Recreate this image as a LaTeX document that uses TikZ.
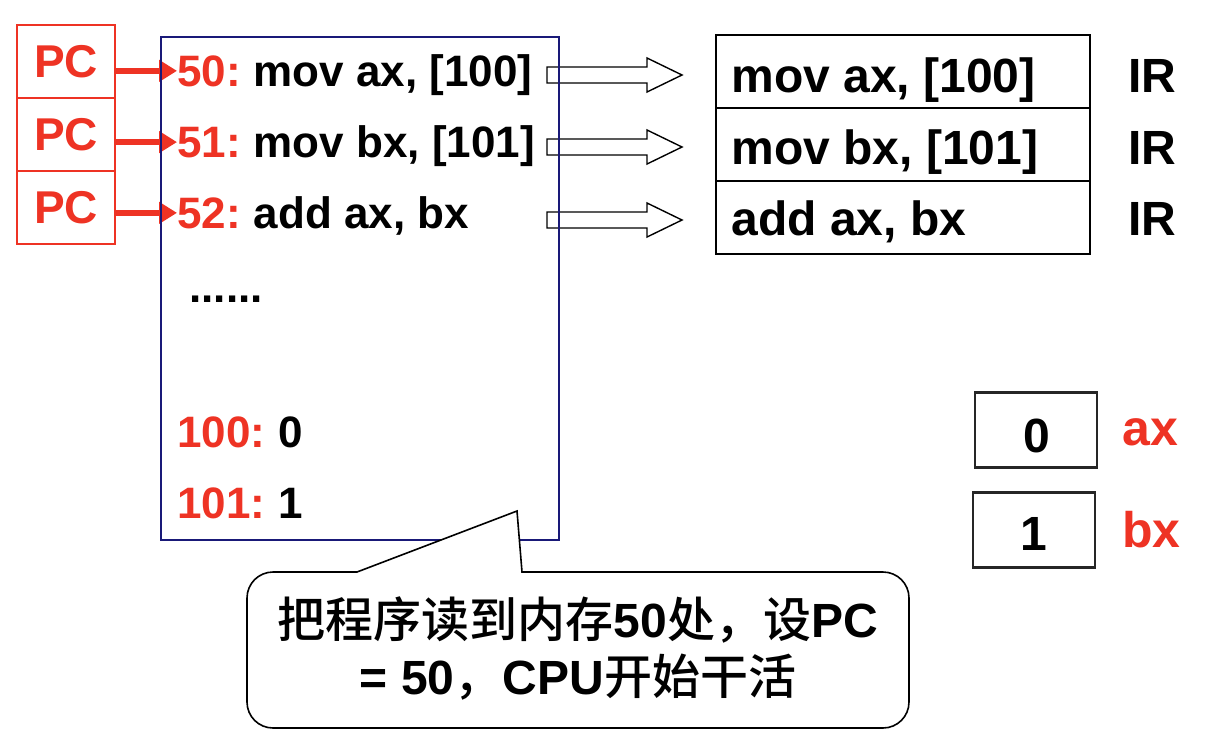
\documentclass[tikz,border=0pt]{standalone}
\usepackage{fontspec}
\setmainfont{Liberation Sans}
\newfontfamily\cjk{Noto Sans CJK SC}[BoldFont={Noto Sans CJK SC Medium}]
\usepackage{tikz}
\usetikzlibrary{arrows.meta,positioning,calc}
\definecolor{pcred}{RGB}{238,51,36}
\definecolor{memblue}{RGB}{25,25,120}

\tikzset{
  pcbox/.style={draw=pcred, line width=0.7pt, minimum width=49pt, minimum height=36.5pt, inner sep=0pt, text=pcred, font=\fontsize{23}{27}\selectfont\bfseries},
  memtext/.style={anchor=base west, inner sep=0pt, font=\fontsize{22}{26}\selectfont\bfseries},
  pcarrow/.style={draw=pcred, line width=2.8pt, -{Triangle[length=9pt,width=10.5pt]}},
  fatarrow/.style={draw=black, fill=white, line width=0.7pt},
  irbox/.style={draw=black, line width=0.6pt, minimum width=187pt, minimum height=36.5pt, inner sep=0pt},
  irtext/.style={anchor=base west, inner sep=0pt, font=\fontsize{24}{28}\selectfont\bfseries},
  regbox/.style={draw=black!85, line width=1.1pt, minimum width=61pt, minimum height=37.5pt, inner sep=0pt},
  regtext/.style={anchor=base, inner sep=0pt, font=\fontsize{24}{28}\selectfont\bfseries},
  reglabel/.style={anchor=base west, inner sep=0pt, text=pcred, font=\fontsize{25}{30}\selectfont\bfseries},
  callout/.style={draw=black, line width=0.8pt, fill=white}
}

\begin{document}
\begin{tikzpicture}[x=0.5pt,y=0.5pt,yscale=-1,xscale=1]
\path[use as bounding box] (0,0) rectangle (1218,740);

%Shape: PC registers
\node[pcbox] (pc1) at (66,61.5) {PC};
\node[pcbox] (pc2) at (66,134.5) {PC};
\node[pcbox] (pc3) at (66,207.5) {PC};

% Text Node: addresses
\node[memtext, text=pcred] (a50) at (177,86) {50:};
\node[memtext, text=pcred] (a51) at (177,157) {51:};
\node[memtext, text=pcred] (a52) at (177,228) {52:};
\node[memtext, xshift=6pt] (c50) at (a50.base east) {mov ax, [100]};
\node[memtext, xshift=6pt] (c51) at (a51.base east) {mov bx, [101]};
\node[memtext, xshift=6pt] (c52) at (a52.base east) {add ax, bx};
\node[memtext] (dots) at (189,302) {......};
\node[memtext, text=pcred] (a100) at (177,447) {100:};
\node[memtext, xshift=6pt] (c100) at (a100.base east) {0};
\node[memtext, text=pcred] (a101) at (177,518) {101:};
\node[memtext, xshift=6pt] (c101) at (a101.base east) {1};

% PC arrows
\draw[pcarrow] (pc1.east |- a50.west) -- (a50.west);
\draw[pcarrow] (pc2.east |- a51.west) -- (a51.west);
\draw[pcarrow] (pc3.east |- a52.west) -- (a52.west);

%Shape: fetch arrows
\coordinate (f1) at (547,75);
\coordinate (f2) at (547,147);
\coordinate (f3) at (547,220);
\draw[fatarrow] (f1) ++(0,-8) -- ++(100,0) -- ++(0,-9) -- ++(35,17) -- ++(-35,17) -- ++(0,-9) -- ++(-100,0) -- cycle;
\draw[fatarrow] (f2) ++(0,-8) -- ++(100,0) -- ++(0,-9) -- ++(35,17) -- ++(-35,17) -- ++(0,-9) -- ++(-100,0) -- cycle;
\draw[fatarrow] (f3) ++(0,-8) -- ++(100,0) -- ++(0,-9) -- ++(35,17) -- ++(-35,17) -- ++(0,-9) -- ++(-100,0) -- cycle;

%Shape: memory
\draw[memblue, line width=0.6pt] (161,37) rectangle (559,540);

%Shape: IR boxes
\node[irbox] (ir1) at (903,71.5) {};
\node[irbox] (ir2) at (903,144.5) {};
\node[irbox] (ir3) at (903,217.5) {};
\node[irtext] (i1) at (731,92) {mov ax, [100]};
\node[irtext] (i2) at (731,164) {mov bx, [101]};
\node[irtext] (i3) at (731,235) {add ax, bx};
\node[irtext] (l1) at (1128,92) {IR};
\node[irtext] (l2) at (1128,164) {IR};
\node[irtext] (l3) at (1128,235) {IR};

%Shape: ax and bx
\node[regbox] (ax) at (1036,430) {};
\node[regbox] (bx) at (1034,530) {};
\node[regtext] (axv) at (1037,452) {0};
\node[regtext] (bxv) at (1034,550) {1};
\node[reglabel] (axl) at (1122,445) {ax};
\node[reglabel] (bxl) at (1122,547) {bx};

%Shape: callout
\draw[callout] (357,572) -- (517,511) -- (522,572) [rounded corners=13pt] -- (909,572) -- (909,728) -- (247,728) -- (247,572) [sharp corners] -- cycle;
\node[align=center, inner sep=0pt, font=\fontsize{24}{28.5}\selectfont\bfseries] (note) at (578,648)
  {{\cjk 把程序读到内存}50{\cjk 处，设}PC\\= 50{\cjk ，}CPU{\cjk 开始干活}};

\end{tikzpicture}
\end{document}
